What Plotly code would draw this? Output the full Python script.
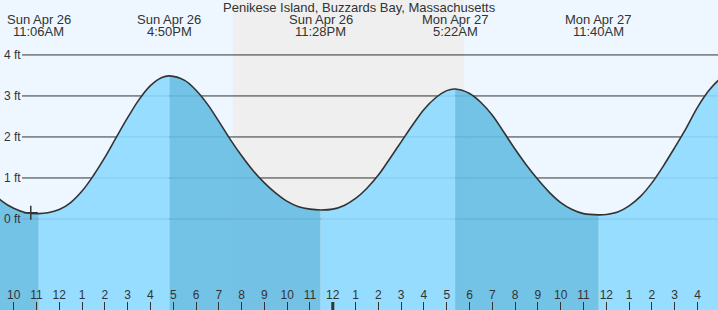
import plotly.graph_objects as go

# ---- data ----
times = [
    # falling to the 11:06AM low
    "2020-04-26 09:00", "2020-04-26 09:30", "2020-04-26 10:00", "2020-04-26 10:30",
    "2020-04-26 11:06",
    # rising to the 4:50PM high
    "2020-04-26 11:30", "2020-04-26 12:00", "2020-04-26 12:30", "2020-04-26 13:00",
    "2020-04-26 13:30", "2020-04-26 14:00", "2020-04-26 14:30", "2020-04-26 15:00",
    "2020-04-26 15:30", "2020-04-26 16:00", "2020-04-26 16:30", "2020-04-26 16:50",
    # falling to the 11:28PM low
    "2020-04-26 17:30", "2020-04-26 18:00", "2020-04-26 18:30", "2020-04-26 19:00",
    "2020-04-26 19:30", "2020-04-26 20:00", "2020-04-26 20:30", "2020-04-26 21:00",
    "2020-04-26 21:30", "2020-04-26 22:00", "2020-04-26 22:30", "2020-04-26 23:00",
    "2020-04-26 23:28",
    # rising to the 5:22AM high
    "2020-04-27 00:00", "2020-04-27 00:30", "2020-04-27 01:00", "2020-04-27 01:30",
    "2020-04-27 02:00", "2020-04-27 02:30", "2020-04-27 03:00", "2020-04-27 03:30",
    "2020-04-27 04:00", "2020-04-27 04:30", "2020-04-27 05:00", "2020-04-27 05:22",
    # falling to the 11:40AM low
    "2020-04-27 06:00", "2020-04-27 06:30", "2020-04-27 07:00", "2020-04-27 07:30",
    "2020-04-27 08:00", "2020-04-27 08:30", "2020-04-27 09:00", "2020-04-27 09:30",
    "2020-04-27 10:00", "2020-04-27 10:30", "2020-04-27 11:00", "2020-04-27 11:40",
    # rising to the evening high
    "2020-04-27 12:00", "2020-04-27 12:30", "2020-04-27 13:00", "2020-04-27 13:30",
    "2020-04-27 14:00", "2020-04-27 14:30", "2020-04-27 15:00", "2020-04-27 15:30",
    "2020-04-27 16:00", "2020-04-27 16:30", "2020-04-27 17:00", "2020-04-27 17:30",
    "2020-04-27 17:46",
]
heights = [
    0.69, 0.43, 0.26, 0.16,
    0.13,
    0.15, 0.23, 0.40, 0.68,
    1.06, 1.50, 1.99, 2.47,
    2.91, 3.25, 3.45, 3.49,
    3.38, 3.14, 2.80, 2.38,
    1.94, 1.54, 1.18, 0.88,
    0.63, 0.43, 0.30, 0.24,
    0.22,
    0.24, 0.33, 0.50, 0.75,
    1.07, 1.47, 1.88, 2.29,
    2.67, 2.95, 3.13, 3.17,
    3.06, 2.84, 2.53, 2.12,
    1.70, 1.31, 0.96, 0.65,
    0.40, 0.23, 0.13, 0.10,
    0.11, 0.17, 0.32, 0.55,
    0.88, 1.29, 1.74, 2.21,
    2.72, 3.13, 3.42, 3.56,
    3.58,
]

event_times = ["2020-04-26 11:06", "2020-04-26 16:50", "2020-04-26 23:28",
               "2020-04-27 05:22", "2020-04-27 11:40", "2020-04-27 17:46"]
event_days = ["Sun Apr 26", "Sun Apr 26", "Sun Apr 26",
              "Mon Apr 27", "Mon Apr 27", "Mon Apr 27"]
event_clock = ["11:06AM", "4:50PM", "11:28PM", "5:22AM", "11:40AM", "5:46PM"]

night_start = "2020-04-26 19:37"
night_end = "2020-04-27 05:46"

now_time = "2020-04-26 10:45"
now_height = 0.15

hour_ticks = [
    "2020-04-26 10:00", "2020-04-26 11:00", "2020-04-26 12:00", "2020-04-26 13:00",
    "2020-04-26 14:00", "2020-04-26 15:00", "2020-04-26 16:00", "2020-04-26 17:00",
    "2020-04-26 18:00", "2020-04-26 19:00", "2020-04-26 20:00", "2020-04-26 21:00",
    "2020-04-26 22:00", "2020-04-26 23:00", "2020-04-27 00:00", "2020-04-27 01:00",
    "2020-04-27 02:00", "2020-04-27 03:00", "2020-04-27 04:00", "2020-04-27 05:00",
    "2020-04-27 06:00", "2020-04-27 07:00", "2020-04-27 08:00", "2020-04-27 09:00",
    "2020-04-27 10:00", "2020-04-27 11:00", "2020-04-27 12:00", "2020-04-27 13:00",
    "2020-04-27 14:00", "2020-04-27 15:00", "2020-04-27 16:00",
]
hour_labels = ["10", "11", "12", "1", "2", "3", "4", "5", "6", "7", "8", "9", "10", "11",
               "12", "1", "2", "3", "4", "5", "6", "7", "8", "9", "10", "11", "12",
               "1", "2", "3", "4"]
midnight = "2020-04-27 00:00"

ft_vals = [0, 1, 2, 3, 4]
ft_labels = ["0 ft", "1 ft", "2 ft", "3 ft", "4 ft"]

title_text = "Penikese Island, Buzzards Bay, Massachusetts"

# ---- styling ----
W, H = 718, 310
BG = "#eef7ff"
NIGHT = "#efefef"
LIGHT = "rgba(140,217,255,0.9)"
DARK = "rgba(101,188,227,0.9)"
INK = "#333333"
FONT = "Liberation Sans, Arial, sans-serif"
BASE = -3.0

fig = go.Figure()

# fill segments split at each tide extreme
bounds = [0] + [times.index(t) for t in event_times[:-1]] + [len(times) - 1]
for a, b in zip(bounds[:-1], bounds[1:]):
    seg_x = times[a:b + 1]
    seg_y = heights[a:b + 1]
    color = DARK if seg_y[-1] < seg_y[0] else LIGHT
    fig.add_trace(go.Scatter(x=[seg_x[0], seg_x[-1]], y=[BASE, BASE], mode="lines",
                             line=dict(width=0), hoverinfo="skip", showlegend=False))
    fig.add_trace(go.Scatter(x=seg_x, y=seg_y, mode="lines", fill="tonexty",
                             fillcolor=color, line=dict(width=0, shape="spline"),
                             hoverinfo="skip", showlegend=False))

# tide curve
fig.add_trace(go.Scatter(x=times, y=heights, mode="lines",
                         line=dict(color=INK, width=1.6, shape="spline"),
                         showlegend=False))

# current time marker
fig.add_trace(go.Scatter(x=[now_time], y=[now_height], mode="markers",
                         marker=dict(symbol="cross-thin", size=10,
                                     line=dict(color=INK, width=1.5)),
                         showlegend=False))

shapes = [dict(type="rect", xref="x", yref="paper", x0=night_start, x1=night_end,
               y0=0, y1=1, fillcolor=NIGHT, line=dict(width=0), layer="below")]
for v in ft_vals:
    shapes.append(dict(type="line", xref="paper", yref="y", x0=22 / W, x1=1, y0=v, y1=v,
                       line=dict(color=INK, width=1), layer="below"))
shapes.append(dict(type="line", xref="x", yref="paper", x0=midnight, x1=midnight,
                   y0=0, y1=8 / H, line=dict(color=INK, width=3), layer="above"))

annotations = []
for v, lab in zip(ft_vals, ft_labels):
    annotations.append(dict(xref="paper", yref="y", x=2 / W, y=v, text=lab,
                            xanchor="left", yanchor="middle", showarrow=False,
                            font=dict(family=FONT, size=12, color=INK)))
for t, d, c in zip(event_times, event_days, event_clock):
    annotations.append(dict(xref="x", yref="paper", x=t, y=1 - 20 / H, text=d,
                            xanchor="center", yanchor="middle", showarrow=False,
                            font=dict(family=FONT, size=13, color=INK)))
    annotations.append(dict(xref="x", yref="paper", x=t, y=1 - 31.5 / H, text=c,
                            xanchor="center", yanchor="middle", showarrow=False,
                            font=dict(family=FONT, size=13, color=INK)))
annotations.append(dict(xref="paper", yref="paper", x=0.5, y=1 - 8 / H, text=title_text,
                        xanchor="center", yanchor="middle", showarrow=False,
                        font=dict(family=FONT, size=13, color=INK)))

fig.update_layout(
    width=W, height=H, margin=dict(l=0, r=0, t=0, b=0, pad=0),
    paper_bgcolor=BG, plot_bgcolor=BG, showlegend=False,
    shapes=shapes, annotations=annotations,
    xaxis=dict(type="date", range=["2020-04-26 09:24", "2020-04-27 16:54"],
               showgrid=False, zeroline=False, showline=False,
               tickmode="array", tickvals=hour_ticks, ticktext=hour_labels,
               ticks="inside", ticklen=8, tickwidth=1, tickcolor=INK,
               ticklabelposition="inside", tickangle=0,
               tickfont=dict(family=FONT, size=12, color=INK), fixedrange=True),
    yaxis=dict(range=[-2.22, 5.34], visible=False, fixedrange=True),
)

fig.write_html("out.html")
